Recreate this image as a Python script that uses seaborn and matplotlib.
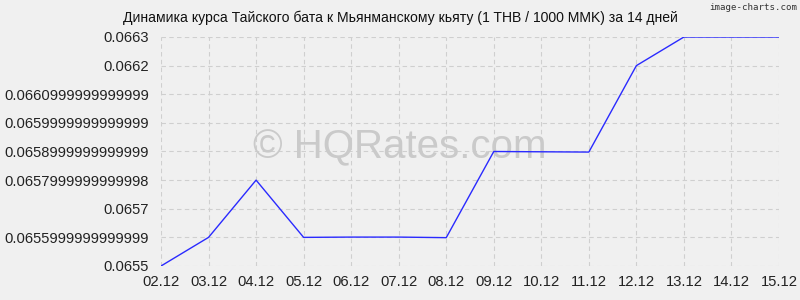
import matplotlib
matplotlib.use("Agg")
import matplotlib.pyplot as plt
import seaborn as sns
import pandas as pd
from matplotlib.ticker import FixedLocator, FixedFormatter

dates = ["02.12", "03.12", "04.12", "05.12", "06.12", "07.12", "08.12",
         "09.12", "10.12", "11.12", "12.12", "13.12", "14.12", "15.12"]
rates = [0.0655, 0.0656, 0.0658, 0.06560, 0.065601, 0.065601, 0.065599,
         0.06590, 0.065899, 0.065898, 0.0662, 0.0663, 0.0663, 0.0663]
ytick_values = [0.0655, 0.0656, 0.0657, 0.0658, 0.0659, 0.0660, 0.0661, 0.0662, 0.0663]
ytick_labels = ["0.0655", "0.0655999999999999", "0.0657", "0.0657999999999998",
                "0.0658999999999999", "0.0659999999999999", "0.0660999999999999",
                "0.0662", "0.0663"]
title = "Динамика курса Тайского бата к Мьянманскому кьяту (1 THB / 1000 MMK) за 14 дней"

sns.set_theme(style="white")
plt.rcParams['font.family'] = ['Liberation Sans', 'DejaVu Sans']

df = pd.DataFrame({"idx": range(len(dates)), "rate": rates})

fig = plt.figure(figsize=(8, 3), dpi=100, facecolor="#f0f0f0")
ax = fig.add_axes([161/800, 1-266/300, (779-161)/800, (266-37)/300])
ax.set_facecolor("#f0f0f0")

sns.lineplot(data=df, x="idx", y="rate", ax=ax, color="#2a2aff", linewidth=1.0, zorder=3)

ax.set_xlim(0, len(dates)-1)
ax.set_ylim(ytick_values[0], ytick_values[-1])
ax.xaxis.set_major_locator(FixedLocator(list(range(len(dates)))))
ax.xaxis.set_major_formatter(FixedFormatter(dates))
ax.yaxis.set_major_locator(FixedLocator(ytick_values))
ax.yaxis.set_major_formatter(FixedFormatter(ytick_labels))
ax.grid(True, color="#cfcfcf", linestyle=(0, (4, 3)), linewidth=0.8)
ax.set_axisbelow(True)
for s in ax.spines.values():
    s.set_visible(False)
ax.tick_params(axis="y", length=0, labelsize=10.6, colors="#222222", pad=8.5)
ax.tick_params(axis="x", length=0, labelsize=10.6, colors="#222222", pad=6.5)
ax.set_xlabel("")
ax.set_ylabel("")

fig.text(0.5, 1-18/300, title, ha="center", va="center", fontsize=10.1, color="#111111")
fig.text(0.997, 1-7/300, "image-charts.com", ha="right", va="center", fontsize=6.6,
         color="#333333", family=["DejaVu Sans Mono"])
ax.text(0.5, 1-147/300, "© HQRates.com", ha="center", va="center", fontsize=29,
        color="#cacaca", zorder=1, transform=fig.transFigure)

fig.savefig("out.png", dpi=100, facecolor="#f0f0f0")
